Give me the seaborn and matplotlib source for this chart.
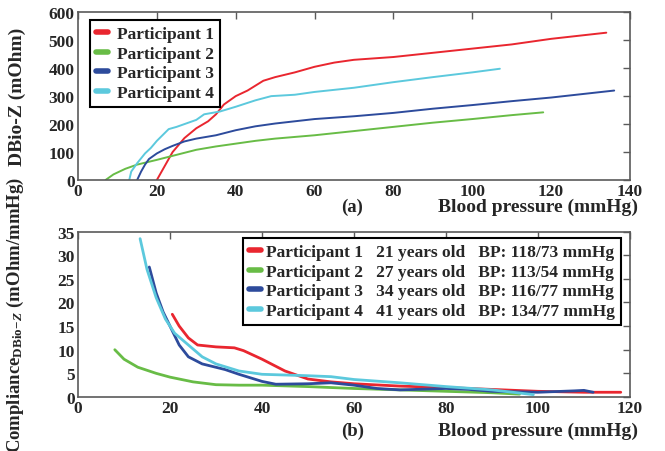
import numpy as np
import pandas as pd
import matplotlib
matplotlib.use('Agg')
import matplotlib.pyplot as plt
import seaborn as sns

# ---------------------------------------------------------------
# datos
# ---------------------------------------------------------------
PARTICIPANTS = ['Participant 1', 'Participant 2', 'Participant 3', 'Participant 4']
AGES = ['21 years old', '27 years old', '34 years old', '41 years old']
BPS = ['BP: 118/73 mmHg', 'BP: 113/54 mmHg', 'BP: 116/77 mmHg', 'BP: 134/77 mmHg']
COLORS = ['#e9262f', '#68bc46', '#2d4b9c', '#5cc9dd']

# (a) DBio-Z vs presion
p1_bp_a = [20, 22, 24, 27, 30, 33, 35, 37, 40, 43, 47, 50, 55, 60, 65, 70, 80, 90, 100, 110, 120, 134]
p1_z_a = [0, 50, 100, 150, 185, 210, 235, 270, 300, 320, 355, 368, 385, 405, 420, 430, 440, 455, 470, 485, 505, 527]
p2_bp_a = [7, 9, 12, 15, 20, 25, 30, 35, 40, 45, 50, 60, 70, 80, 90, 100, 110, 118]
p2_z_a = [0, 20, 40, 55, 72, 90, 108, 120, 130, 140, 148, 160, 175, 190, 205, 218, 232, 242]
p3_bp_a = [15, 16, 17, 18, 20, 22, 24, 27, 30, 35, 40, 45, 50, 60, 70, 80, 90, 100, 110, 120, 136]
p3_z_a = [0, 30, 55, 75, 95, 110, 122, 138, 148, 160, 178, 192, 202, 218, 228, 240, 255, 268, 282, 295, 320]
p4_bp_a = [13, 13.5, 15, 17, 18.5, 20, 23, 25, 28, 30, 32, 36, 40, 45, 49, 55, 60, 70, 80, 90, 100, 107]
p4_z_a = [0, 30, 60, 95, 115, 140, 182, 190, 205, 215, 235, 245, 262, 285, 300, 305, 315, 330, 350, 368, 385, 398]

# (b) compliance vs presion
p1_bp_b = [20.5, 22, 24, 26, 30, 34, 36, 40, 45, 50, 55, 60, 70, 80, 90, 100, 110, 118]
p1_c_b = [17.5, 15, 12.5, 11, 10.6, 10.4, 9.8, 8, 5.5, 3.8, 3.2, 2.8, 2.3, 2, 1.6, 1.2, 1, 1]
p2_bp_b = [8, 10, 13, 17, 20, 25, 30, 35, 40, 50, 60, 70, 80, 90, 96]
p2_c_b = [10, 8, 6.3, 5, 4.2, 3.2, 2.6, 2.5, 2.5, 2.2, 1.8, 1.5, 1.2, 0.9, 0.6]
p3_bp_b = [15.5, 17, 18.5, 20, 22, 24, 27, 32, 35, 40, 43, 50, 55, 60, 65, 70, 80, 85, 90, 100, 108, 110, 112]
p3_c_b = [27.5, 22, 18, 15, 11, 8.5, 7, 5.8, 4.8, 3.3, 2.7, 2.8, 3, 2.5, 1.8, 1.5, 1.8, 1.6, 1.2, 1, 1.3, 1.4, 1]
p4_bp_b = [13.5, 15, 17, 19, 21, 24, 27, 30, 35, 40, 50, 55, 60, 70, 80, 90, 99]
p4_c_b = [33.5, 27, 21, 16.5, 13.5, 11, 8.5, 7, 5.5, 4.8, 4.5, 4.3, 3.7, 3, 2.2, 1.5, 0.5]


def armar_df(xs, ys):
    partes = []
    for nombre, x, y in zip(PARTICIPANTS, xs, ys):
        partes.append(pd.DataFrame({'bp': x, 'val': y, 'participant': nombre}))
    return pd.concat(partes, ignore_index=True)


df_a = armar_df([p1_bp_a, p2_bp_a, p3_bp_a, p4_bp_a], [p1_z_a, p2_z_a, p3_z_a, p4_z_a])
df_b = armar_df([p1_bp_b, p2_bp_b, p3_bp_b, p4_bp_b], [p1_c_b, p2_c_b, p3_c_b, p4_c_b])

# ---------------------------------------------------------------
# estilo
# ---------------------------------------------------------------
sns.set_style('white')
plt.rcParams['font.family'] = ['Liberation Serif', 'DejaVu Serif']
plt.rcParams['font.weight'] = 'bold'
plt.rcParams['mathtext.fontset'] = 'custom'
plt.rcParams['mathtext.rm'] = 'Liberation Serif:bold'
plt.rcParams['mathtext.bf'] = 'Liberation Serif:bold'
plt.rcParams['mathtext.it'] = 'Liberation Serif:italic:bold'

palette = dict(zip(PARTICIPANTS, COLORS))

fig = plt.figure(figsize=(6.65, 4.52), dpi=100)
ax1 = fig.add_axes([0.1173, 0.5996, 0.830, 0.371])
ax2 = fig.add_axes([0.1173, 0.1195, 0.830, 0.366])


def estilo_ejes(ax):
    for sp in ax.spines.values():
        sp.set_color('#5a5a5a')
        sp.set_linewidth(1.2)
    ax.tick_params(direction='in', top=True, right=True, length=5, width=1.0,
                   color='#5a5a5a', labelsize=12.5, pad=2.5)
    for lab in ax.get_xticklabels() + ax.get_yticklabels():
        lab.set_fontweight('bold')


def estilo_leyenda(leg):
    leg.get_frame().set_edgecolor('black')
    leg.get_frame().set_linewidth(1.5)
    for h in leg.get_lines():
        h.set_linewidth(4)
    for t in leg.get_texts():
        t.set_fontweight('bold')


# ---- (a) ----
sns.lineplot(data=df_a, x='bp', y='val', hue='participant', palette=palette,
             estimator=None, sort=False, linewidth=1.4, ax=ax1)
ax1.set_xlim(0, 140)
ax1.set_ylim(0, 600)
ax1.set_xticks(np.arange(0, 141, 20))
ax1.set_yticks(np.arange(0, 601, 100))
ax1.set_xlabel('')
ax1.set_ylabel('DBio-Z (mOhm)', fontsize=14, fontweight='bold')
ax1.yaxis.set_label_coords(-0.094, 0.5)
estilo_ejes(ax1)
ax1.text(0.496, -0.16, '(a)', transform=ax1.transAxes, ha='center', va='center',
         fontsize=13.5, fontweight='bold')
ax1.text(1.015, -0.16, 'Blood pressure (mmHg)', transform=ax1.transAxes, ha='right',
         va='center', fontsize=14, fontweight='bold')
leg1 = ax1.legend(loc='upper left', bbox_to_anchor=(0.022, 0.955), borderaxespad=0,
                  fontsize=12.5, handlelength=0.7, handletextpad=0.5, labelspacing=0.2,
                  borderpad=0.35, fancybox=False, framealpha=1)
estilo_leyenda(leg1)

# ---- (b) ----
sns.lineplot(data=df_b, x='bp', y='val', hue='participant', palette=palette,
             estimator=None, sort=False, linewidth=2.0, ax=ax2)
ax2.set_xlim(0, 120)
ax2.set_ylim(0, 35)
ax2.set_xticks(np.arange(0, 121, 20))
ax2.set_yticks(np.arange(0, 36, 5))
ax2.set_xlabel('')
ax2.set_ylabel(r'Compliance$_{\mathrm{DBio\!-\!}\mathit{Z}}$ (mOhm/mmHg)', fontsize=13.5,
               fontweight='bold')
ax2.yaxis.set_label_coords(-0.094, 0.5)
estilo_ejes(ax2)
ax2.text(0.498, -0.2, '(b)', transform=ax2.transAxes, ha='center', va='center',
         fontsize=13.5, fontweight='bold')
ax2.text(1.015, -0.2, 'Blood pressure (mmHg)', transform=ax2.transAxes, ha='right',
         va='center', fontsize=14, fontweight='bold')
handles, _ = ax2.get_legend_handles_labels()
etiquetas = [f'{p}   {a}   {b}' for p, a, b in zip(PARTICIPANTS, AGES, BPS)]
leg2 = ax2.legend(handles, etiquetas, loc='upper right', bbox_to_anchor=(0.984, 0.962),
                  borderaxespad=0, fontsize=12.5, handlelength=0.7, handletextpad=0.3,
                  labelspacing=0.2, borderpad=0.35, fancybox=False, framealpha=1)
estilo_leyenda(leg2)

fig.savefig('out.png', dpi=100)
plt.close(fig)
